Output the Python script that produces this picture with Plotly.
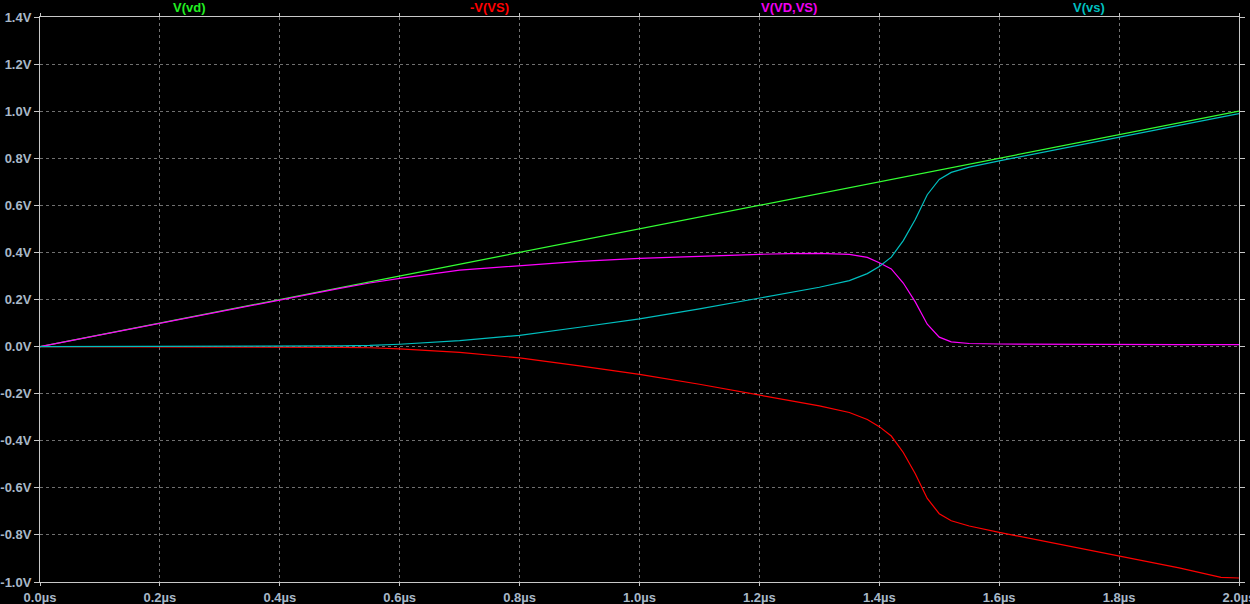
import plotly.graph_objects as go

# time in microseconds
t_us = [0, 0.1, 0.2, 0.3, 0.4, 0.5, 0.55, 0.6, 0.7, 0.8, 0.9, 1.0, 1.1, 1.2, 1.25, 1.3,
        1.35, 1.38, 1.4, 1.42, 1.44, 1.46, 1.48, 1.5, 1.52, 1.55, 1.6, 1.7, 1.8, 1.9, 1.97, 2.0]
v_vd = [0, 0.05, 0.1, 0.15, 0.2, 0.25, 0.275, 0.3, 0.35, 0.4, 0.45, 0.5, 0.55, 0.6, 0.625, 0.65,
        0.675, 0.69, 0.7, 0.71, 0.72, 0.73, 0.74, 0.75, 0.76, 0.775, 0.8, 0.85, 0.9, 0.95, 0.985, 1.0]
v_vs = [0, 0, 0, 0, 0.001, 0.003, 0.005, 0.01, 0.025, 0.048, 0.082, 0.118, 0.16, 0.205, 0.228, 0.252,
        0.28, 0.31, 0.34, 0.38, 0.45, 0.54, 0.645, 0.71, 0.74, 0.762, 0.789, 0.84, 0.892, 0.94, 0.975, 0.99]
neg_v_vs = [0, 0, 0, 0, -0.001, -0.003, -0.005, -0.01, -0.025, -0.048, -0.082, -0.118, -0.16, -0.205, -0.228, -0.252,
            -0.28, -0.31, -0.34, -0.38, -0.45, -0.54, -0.645, -0.71, -0.74, -0.762, -0.789, -0.84, -0.892, -0.94, -0.98, -0.983]
v_vd_vs = [0, 0.05, 0.1, 0.15, 0.199, 0.247, 0.27, 0.29, 0.325, 0.345, 0.362, 0.375, 0.385, 0.392, 0.395, 0.396,
           0.392, 0.379, 0.356, 0.33, 0.27, 0.19, 0.095, 0.04, 0.02, 0.013, 0.011, 0.009, 0.008, 0.008, 0.008, 0.008]

series_names = ["V(vd)", "-V(VS)", "V(VD,VS)", "V(vs)"]
series_vals = [v_vd, neg_v_vs, v_vd_vs, v_vs]
series_colors = ["#33FF33", "#FF0000", "#FF00FF", "#00BFBF"]
label_colors = ["#22EE22", "#FF0000", "#F000F0", "#00BFBF"]
label_x = [0.125, 0.375, 0.625, 0.875]

x_ticks = [0.0, 0.2, 0.4, 0.6, 0.8, 1.0, 1.2, 1.4, 1.6, 1.8, 2.0]
x_tick_text = ["0.0µs", "0.2µs", "0.4µs", "0.6µs", "0.8µs", "1.0µs", "1.2µs", "1.4µs", "1.6µs", "1.8µs", "2.0µs"]
y_ticks = [-1.0, -0.8, -0.6, -0.4, -0.2, 0.0, 0.2, 0.4, 0.6, 0.8, 1.0, 1.2, 1.4]
y_tick_text = ["-1.0V", "-0.8V", "-0.6V", "-0.4V", "-0.2V", "0.0V", "0.2V", "0.4V", "0.6V", "0.8V", "1.0V", "1.2V", "1.4V"]

fig = go.Figure()
for name, vals, col in zip(series_names, series_vals, series_colors):
    fig.add_trace(go.Scatter(x=t_us, y=vals, mode="lines", name=name,
                             line=dict(color=col, width=1.2)))

for name, col, lx in zip(series_names, label_colors, label_x):
    fig.add_annotation(text=name, x=lx, y=1.0, xref="paper", yref="paper",
                       yanchor="middle", xanchor="center", showarrow=False, yshift=10,
                       font=dict(family="Arial, Liberation Sans", size=13, color=col, weight="bold"))

tick_font = dict(family="Arial, Liberation Sans", size=13, color="#A8B8C8", weight="bold")
axis_common = dict(showgrid=True, gridcolor="#707070", griddash="3px,3px", gridwidth=1,
                   showline=True, linecolor="#C8C8C8", linewidth=1, mirror="ticks",
                   ticks="outside", tickcolor="#C8C8C8", zeroline=False,
                   tickfont=tick_font, automargin=False, ticklabeloverflow="allow")

fig.update_xaxes(range=[0, 2.0], tickvals=x_ticks, ticktext=x_tick_text, ticklabelstandoff=0,
                 ticklen=3, **axis_common)
fig.update_yaxes(range=[-1.0, 1.4], tickvals=y_ticks, ticktext=y_tick_text, ticklabelstandoff=0,
                 ticklen=5, **axis_common)

fig.update_layout(width=1250, height=604, plot_bgcolor="#000000", paper_bgcolor="#000000",
                  showlegend=False, margin=dict(l=40, r=11, t=17, b=22))

fig.write_html("out.html", config={"displayModeBar": False},
               post_script="document.body.style.margin='0';document.body.style.background='#000';")
